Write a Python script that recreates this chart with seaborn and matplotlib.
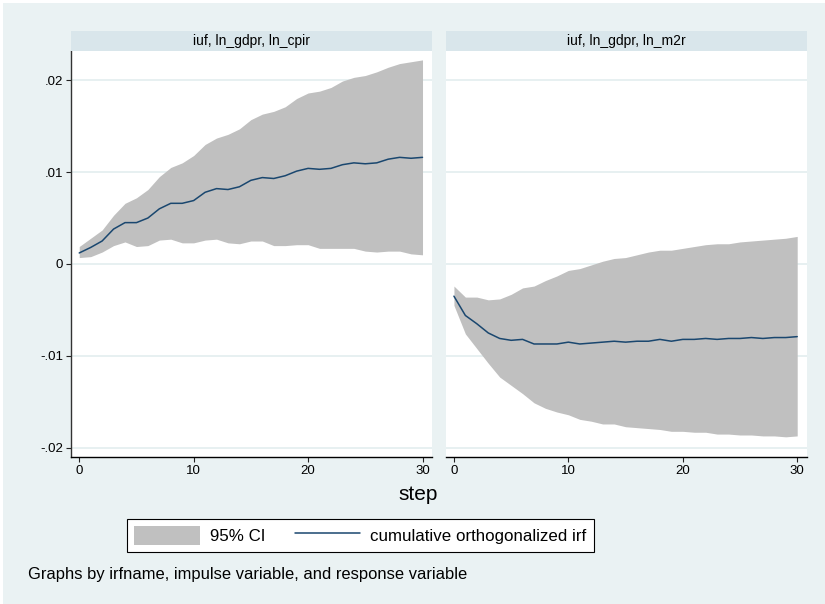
import numpy as np
import pandas as pd
import matplotlib
matplotlib.use("Agg")
import matplotlib.pyplot as plt
import seaborn as sns
from matplotlib.patches import Patch, Rectangle
from matplotlib.lines import Line2D

# ---------------- data ----------------
steps = list(range(31))
panel_titles = ["iuf, ln_gdpr, ln_cpir", "iuf, ln_gdpr, ln_m2r"]

cpir_irf = [0.0012, 0.0018, 0.0025, 0.0038, 0.0045, 0.0045, 0.0050, 0.0060, 0.0066, 0.0066,
            0.0069, 0.0078, 0.0082, 0.0081, 0.0084, 0.0091, 0.0094, 0.0093, 0.0096, 0.0101,
            0.0104, 0.0103, 0.0104, 0.0108, 0.0110, 0.0109, 0.0110, 0.0114, 0.0116, 0.0115,
            0.0116]
cpir_lo = [0.0007, 0.0008, 0.0013, 0.0020, 0.0024, 0.0019, 0.0020, 0.0026, 0.0027, 0.0023,
           0.0023, 0.0026, 0.0027, 0.0023, 0.0022, 0.0025, 0.0025, 0.0020, 0.0020, 0.0021,
           0.0021, 0.0017, 0.0017, 0.0017, 0.0017, 0.0014, 0.0013, 0.0014, 0.0014, 0.0011,
           0.0010]
cpir_hi = [0.0019, 0.0028, 0.0037, 0.0053, 0.0066, 0.0072, 0.0081, 0.0095, 0.0105, 0.0110,
           0.0118, 0.0130, 0.0137, 0.0141, 0.0147, 0.0157, 0.0163, 0.0166, 0.0171, 0.0180,
           0.0186, 0.0188, 0.0192, 0.0199, 0.0203, 0.0205, 0.0209, 0.0214, 0.0218, 0.0220,
           0.0222]

m2r_irf = [-0.0035, -0.0056, -0.0065, -0.0075, -0.0081, -0.0083, -0.0082, -0.0087, -0.0087, -0.0087,
           -0.0085, -0.0087, -0.0086, -0.0085, -0.0084, -0.0085, -0.0084, -0.0084, -0.0082, -0.0084,
           -0.0082, -0.0082, -0.0081, -0.0082, -0.0081, -0.0081, -0.0080, -0.0081, -0.0080, -0.0080,
           -0.0079]
m2r_lo = [-0.0045, -0.0076, -0.0092, -0.0108, -0.0123, -0.0132, -0.0141, -0.0151, -0.0157, -0.0161,
          -0.0164, -0.0169, -0.0171, -0.0174, -0.0174, -0.0177, -0.0178, -0.0179, -0.0180, -0.0182,
          -0.0182, -0.0183, -0.0183, -0.0185, -0.0185, -0.0186, -0.0186, -0.0187, -0.0187, -0.0188,
          -0.0187]
m2r_hi = [-0.0024, -0.0036, -0.0036, -0.0039, -0.0038, -0.0033, -0.0026, -0.0024, -0.0018, -0.0013,
          -0.0007, -0.0005, -0.0001, 0.0003, 0.0006, 0.0007, 0.0010, 0.0013, 0.0015, 0.0015,
          0.0017, 0.0019, 0.0021, 0.0022, 0.0022, 0.0024, 0.0025, 0.0026, 0.0027, 0.0028,
          0.0030]

ytick_vals = [-0.02, -0.01, 0.0, 0.01, 0.02]
ytick_labels = ["-.02", "-.01", "0", ".01", ".02"]
xtick_vals = [0, 10, 20, 30]
legend_labels = ["95% CI", "cumulative orthogonalized irf"]
x_title = "step"
note_text = "Graphs by irfname, impulse variable, and response variable"

# ---------------- style ----------------
sns.set_style("white")
plt.rcParams["font.family"] = ["Liberation Sans", "DejaVu Sans"]
plt.rcParams["text.color"] = "black"
plt.rcParams["xtick.color"] = "#222222"
plt.rcParams["ytick.color"] = "#222222"
plt.rcParams["xtick.labelcolor"] = "black"
plt.rcParams["ytick.labelcolor"] = "black"

BG = "#EAF2F3"
STRIP = "#D9E6EB"
GRID = "#E3EDEF"
CI = "#C0C0C0"
LINE = "#1A476F"

W, H = 825, 604
fig = plt.figure(figsize=(W / 100, H / 100), dpi=100, facecolor="white")
fig.patches.append(Rectangle((3 / W, 0), 1 - 3 / W, 1 - 3 / H, transform=fig.transFigure,
                             facecolor=BG, edgecolor="none", zorder=-10))


def px(x0, y0, x1, y1):
    return [x0 / W, 1 - y1 / H, (x1 - x0) / W, (y1 - y0) / H]


panels = [
    (pd.DataFrame({"step": steps, "irf": cpir_irf, "lo": cpir_lo, "hi": cpir_hi}), 71, 432),
    (pd.DataFrame({"step": steps, "irf": m2r_irf, "lo": m2r_lo, "hi": m2r_hi}), 445.7, 806.7),
]

top, bot = 50.7, 456.7
for i, (df, x0, x1) in enumerate(panels):
    ax = fig.add_axes(px(x0, top, x1, bot))
    ax.set_zorder(1)
    ax.set_facecolor("white")
    ax.fill_between(df["step"], df["lo"], df["hi"], color=CI, linewidth=0, zorder=2)
    sns.lineplot(data=df, x="step", y="irf", ax=ax, color=LINE, linewidth=1.1, zorder=3)
    ax.set_xlim(-0.72, 30.83)
    ax.set_ylim(-0.02096, 0.0232)
    ax.set_xticks(xtick_vals)
    ax.set_xticklabels([str(v) for v in xtick_vals])
    ax.set_yticks(ytick_vals)
    ax.set_axisbelow(True)
    ax.yaxis.grid(True, color=GRID, linewidth=1.2)
    ax.xaxis.grid(False)
    ax.set_xlabel("")
    ax.set_ylabel("")
    for s in ["top", "right"]:
        ax.spines[s].set_visible(False)
    ax.spines["bottom"].set_color("black")
    ax.spines["bottom"].set_linewidth(1.0)
    ax.tick_params(axis="x", direction="out", length=3.6, width=0.8,
                   pad=2.5, labelsize=9.5, bottom=True)
    if i == 0:
        ax.set_yticklabels(ytick_labels)
        ax.spines["left"].set_color("#333333")
        ax.spines["left"].set_linewidth(1.0)
        ax.tick_params(axis="y", direction="out", length=3.6, width=0.8,
                       pad=2.0, labelsize=9.5, left=True)
    else:
        ax.spines["left"].set_visible(False)
        ax.tick_params(axis="y", left=False, labelleft=False)

    sax = fig.add_axes(px(x0, 31, x1, top))
    sax.set_zorder(1)
    sax.set_facecolor(STRIP)
    sax.set_xticks([])
    sax.set_yticks([])
    for s in sax.spines.values():
        s.set_visible(False)
    sax.text(0.5, 0.5, panel_titles[i], ha="center", va="center", fontsize=10,
             transform=sax.transAxes)

fig.text(418 / W, 1 - 495 / H, x_title, ha="center", va="center", fontsize=15)

handles = [Patch(facecolor=CI, edgecolor="none"), Line2D([], [], color=LINE, linewidth=1.1)]
leg = fig.legend(handles=handles, labels=legend_labels, ncol=2, loc="center",
                 bbox_to_anchor=((126 + 595) / 2 / W, 1 - (516.7 + 554) / 2 / H),
                 frameon=True, fancybox=False, edgecolor="black", facecolor="white",
                 fontsize=12.2, handlelength=3.85, handleheight=1.35, handletextpad=0.6,
                 columnspacing=1.75, borderpad=0.42, borderaxespad=0, framealpha=1)
leg.get_frame().set_linewidth(0.8)

fig.text(28 / W, 1 - 579 / H, note_text, ha="left", va="baseline", fontsize=11.85)

fig.savefig("out.png", dpi=100, facecolor=fig.get_facecolor())
